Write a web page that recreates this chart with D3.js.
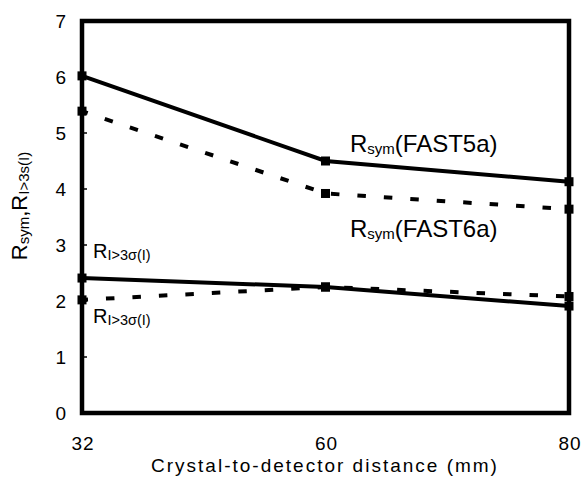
<!DOCTYPE html>
<html>
<head>
<meta charset="utf-8">
<script src="https://cdn.jsdelivr.net/npm/d3@7"></script>
<style>
  body { margin: 0; background: #fff; }
  text { font-family: "Liberation Sans", Arial, sans-serif; fill: #000; }
</style>
</head>
<body>
<svg id="chart" width="581" height="481"></svg>
<script>
// data
const distances = ["32", "60", "80"];
const rsymFast5a = [6.02, 4.5, 4.13];
const rsymFast6a = [5.39, 3.92, 3.64];
const rSigFast5a = [2.41, 2.25, 1.91];
const rSigFast6a = [2.02, 2.25, 2.08];
const yTicks = [0, 1, 2, 3, 4, 5, 6, 7];

const svg = d3.select("#chart");
const plotLeft = 82, plotRight = 569, plotTop = 21, plotBottom = 413;

const x = d3.scalePoint().domain(distances).range([plotLeft, plotRight]);
const y = d3.scaleLinear().domain([0, 7]).range([plotBottom, plotTop]);

const line = d3.line()
  .x((d, i) => x(distances[i]))
  .y(d => y(d));

// series: solid = FAST5a, dashed = FAST6a
const series = [
  { values: rsymFast5a, dash: null },
  { values: rsymFast6a, dash: "8.5,18" },
  { values: rSigFast5a, dash: null },
  { values: rSigFast6a, dash: "8.5,18" }
];

series.forEach(s => {
  svg.append("path")
    .attr("d", line(s.values))
    .attr("fill", "none")
    .attr("stroke", "#000")
    .attr("stroke-width", 4)
    .attr("stroke-dasharray", s.dash)
    .attr("stroke-dashoffset", s.dash ? -24 : null);

  svg.selectAll(null)
    .data(s.values)
    .enter().append("rect")
    .attr("x", (d, i) => x(distances[i]) - 4.5)
    .attr("y", d => y(d) - 4.5)
    .attr("width", 9)
    .attr("height", 9)
    .attr("fill", "#000");
});

// frame
svg.append("rect")
  .attr("x", plotLeft).attr("y", plotTop)
  .attr("width", plotRight - plotLeft).attr("height", plotBottom - plotTop)
  .attr("fill", "none")
  .attr("stroke", "#000")
  .attr("stroke-width", 4.5);

// y ticks and labels
svg.selectAll(null)
  .data(yTicks)
  .enter().append("line")
  .attr("x1", plotLeft).attr("x2", plotLeft + 5)
  .attr("y1", d => y(d)).attr("y2", d => y(d))
  .attr("stroke", "#000").attr("stroke-width", 1.5);

svg.selectAll(null)
  .data(yTicks)
  .enter().append("text")
  .attr("x", 66)
  .attr("y", d => y(d) + 7)
  .attr("text-anchor", "end")
  .attr("font-size", 19)
  .text(d => d);

// x tick labels
svg.selectAll(null)
  .data(distances)
  .enter().append("text")
  .attr("x", d => x(d) + 1)
  .attr("y", 450)
  .attr("text-anchor", "middle")
  .attr("font-size", 19)
  .attr("letter-spacing", 1)
  .text(d => d);

// x axis title
svg.append("text")
  .attr("x", 325)
  .attr("y", 472)
  .attr("text-anchor", "middle")
  .attr("font-size", 19)
  .attr("letter-spacing", 2)
  .text("Crystal-to-detector distance (mm)");

// y axis title
const yTitle = svg.append("text")
  .attr("transform", "translate(27,206) rotate(-90)")
  .attr("text-anchor", "middle")
  .attr("font-size", 22);
yTitle.append("tspan").text("R");
yTitle.append("tspan").attr("font-size", 15).attr("dy", 2).text("sym");
yTitle.append("tspan").attr("dy", -2).text(",R");
yTitle.append("tspan").attr("font-size", 15).attr("dy", 2).text("I>3s(I)");

// series labels
function subLabel(px, py, size, subSize, main, sub, tail) {
  const t = svg.append("text").attr("x", px).attr("y", py).attr("font-size", size);
  t.append("tspan").text(main);
  t.append("tspan").attr("font-size", subSize).attr("dy", 2).text(sub);
  if (tail) t.append("tspan").attr("dy", -2).text(tail);
}
subLabel(350, 152, 24, 15, "R", "sym", "(FAST5a)");
subLabel(350, 237, 24, 15, "R", "sym", "(FAST6a)");
subLabel(93, 258, 20, 14.5, "R", "I>3σ(I)");
subLabel(93, 323, 20, 14.5, "R", "I>3σ(I)");
</script>
</body>
</html>
